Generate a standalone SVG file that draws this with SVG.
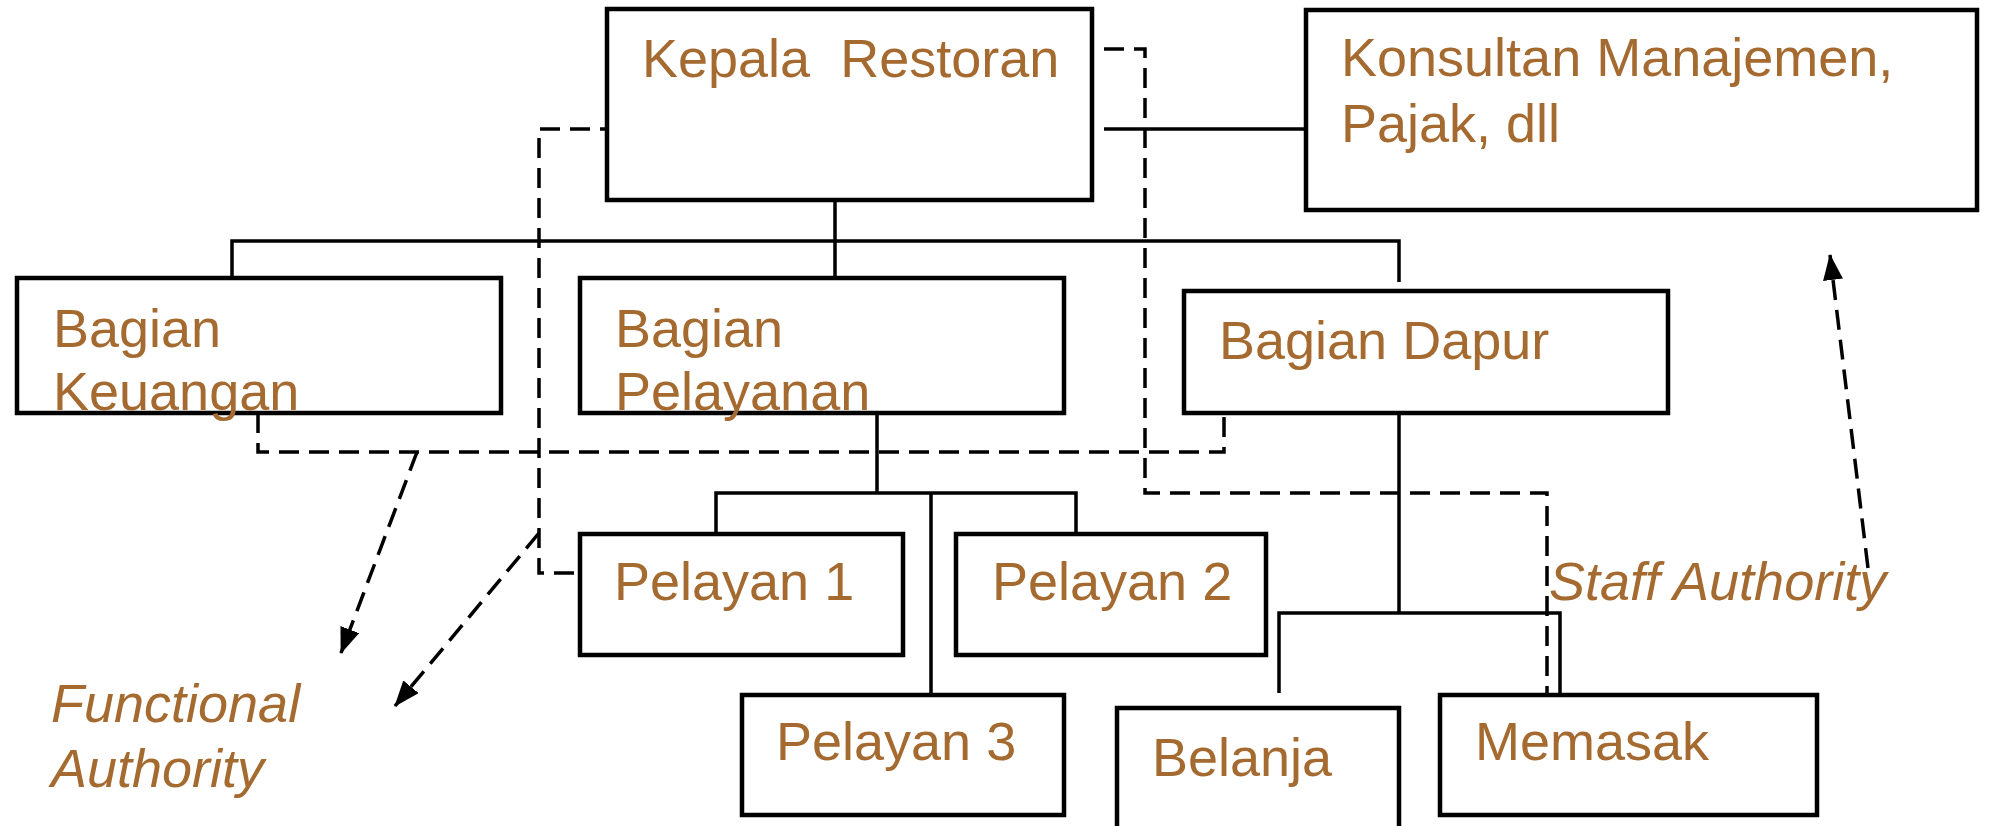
<svg xmlns="http://www.w3.org/2000/svg" width="1990" height="826" viewBox="0 0 1990 826">
<style>
.box{fill:#fff;stroke:#000;stroke-width:4.5}
.t{font-family:"Liberation Sans",Arial,sans-serif;font-size:54px;fill:#A46A30}
.i{font-style:italic}
.s{fill:none;stroke:#000;stroke-width:3.5}
.d{fill:none;stroke:#000;stroke-width:3.5;stroke-dasharray:20 10}
</style>
<defs>
<marker id="arr" viewBox="0 0 26 20" refX="25" refY="10" markerWidth="26" markerHeight="20" orient="auto" markerUnits="userSpaceOnUse">
<path d="M0,0 L26,10 L0,20 z" fill="#000"/>
</marker>
</defs>
<rect width="1990" height="826" fill="#fff"/>
<g id="connectors">
<path class="s" d="M835,200 V278 M232,278 V241 H1399 V282"/>
<path class="s" d="M1104,129 H1306"/>
<path class="s" d="M877,413 V493 M716,534 V493 H1076 V534 M931,493 V695"/>
<path class="s" d="M1399,413 V613 M1279,693 V613 H1560 V695"/>
<path class="d" d="M620,129 H539 V573 H580"/>
<path class="d" d="M1104,49 H1145 V493 H1547 V693"/>
<path class="d" d="M258,413 V452 H1224 V413"/>
<path class="d" d="M417,452 L341,653" marker-end="url(#arr)"/>
<path class="d" d="M539,533 L395,706" marker-end="url(#arr)"/>
<path class="d" d="M1868,568 L1830,255" marker-end="url(#arr)"/>
</g>
<g id="kepala">
<rect class="box" x="607" y="9" width="485" height="191"/>
<text class="t" x="642" y="77" xml:space="preserve">Kepala  Restoran</text>
</g>
<g id="konsultan">
<rect class="box" x="1306" y="10" width="671" height="200"/>
<text class="t" x="1341" y="76">Konsultan Manajemen,</text>
<text class="t" x="1341" y="142">Pajak, dll</text>
</g>
<g id="keuangan">
<rect class="box" x="17" y="278" width="484" height="135"/>
<text class="t" x="53" y="347">Bagian</text>
<text class="t" x="53" y="410">Keuangan</text>
</g>
<g id="pelayanan">
<rect class="box" x="580" y="278" width="484" height="135"/>
<text class="t" x="615" y="347">Bagian</text>
<text class="t" x="615" y="410">Pelayanan</text>
</g>
<g id="dapur">
<rect class="box" x="1184" y="291" width="484" height="122"/>
<text class="t" x="1219" y="359">Bagian Dapur</text>
</g>
<g id="pelayan1">
<rect class="box" x="580" y="534" width="323" height="121"/>
<text class="t" x="614" y="600">Pelayan 1</text>
</g>
<g id="pelayan2">
<rect class="box" x="956" y="534" width="310" height="121"/>
<text class="t" x="992" y="600">Pelayan 2</text>
</g>
<g id="pelayan3">
<rect class="box" x="742" y="695" width="322" height="120"/>
<text class="t" x="776" y="760">Pelayan 3</text>
</g>
<g id="belanja">
<rect class="box" x="1117" y="708" width="282" height="130"/>
<text class="t" x="1152" y="776">Belanja</text>
</g>
<g id="memasak">
<rect class="box" x="1440" y="695" width="377" height="120"/>
<text class="t" x="1475" y="760">Memasak</text>
</g>
<g id="labels">
<text class="t i" x="51" y="722">Functional</text>
<text class="t i" x="51" y="787">Authority</text>
<text class="t i" x="1549" y="600">Staff Authority</text>
</g>
</svg>
